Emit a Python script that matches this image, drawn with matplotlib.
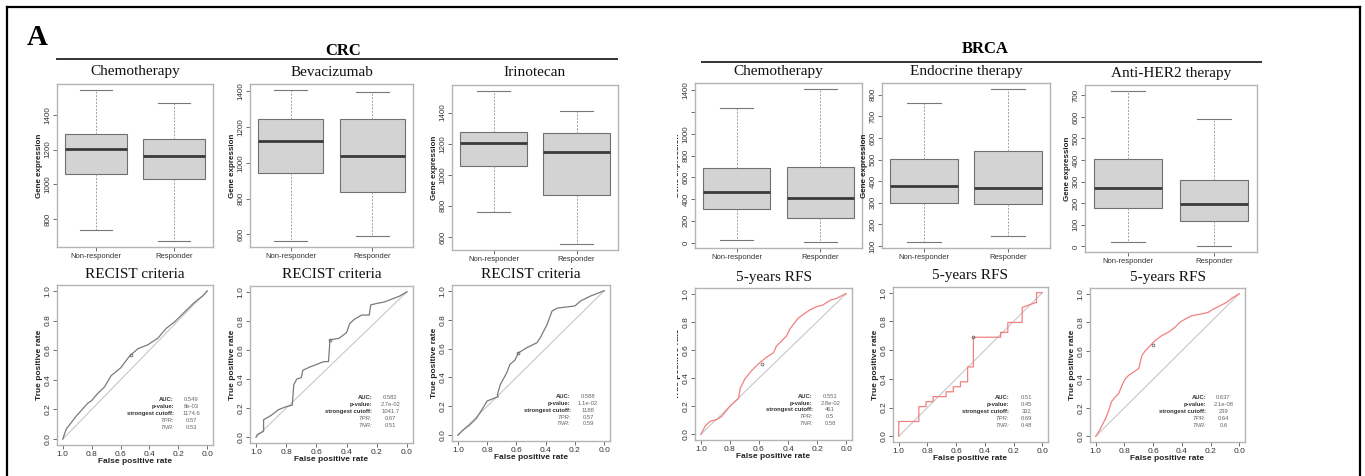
import matplotlib
matplotlib.use('Agg')
import matplotlib.pyplot as plt
from matplotlib.lines import Line2D
from matplotlib.patches import Rectangle

W, H = 1365, 476

# ---- boxplot data: [whislo, q1, median, q3, whishi] for Non-responder, Responder
box_groups = ['Non-responder', 'Responder']
box_titles = ['Chemotherapy', 'Bevacizumab', 'Irinotecan',
              'Chemotherapy', 'Endocrine therapy', 'Anti-HER2 therapy']
crc_chemo = [[737, 1057, 1202, 1290, 1541], [676, 1029, 1162, 1261, 1467]]
crc_bev = [[563, 940, 1123, 1247, 1406], [593, 838, 1037, 1247, 1393]]
crc_irino = [[759, 1054, 1202, 1275, 1538], [555, 871, 1144, 1267, 1409]]
brca_chemo = [[22, 308, 462, 683, 1237], [6, 228, 412, 698, 1412]]
brca_endo = [[119, 299, 377, 503, 761], [147, 294, 367, 539, 826]]
brca_her2 = [[19, 180, 270, 406, 719], [3, 120, 195, 309, 589]]
box_data = [crc_chemo, crc_bev, crc_irino, brca_chemo, brca_endo, brca_her2]

box_yticks = [[800, 1000, 1200, 1400],
              [600, 800, 1000, 1200, 1400],
              [600, 800, 1000, 1200, 1400],
              [0, 200, 400, 600, 800, 1000, 1200, 1400],
              [100, 200, 300, 400, 500, 600, 700, 800],
              [0, 100, 200, 300, 400, 500, 600, 700]]
box_ylabels = [[str(t) for t in ticks] for ticks in box_yticks]
box_ylabels[3][6] = ''   # R drops the 1200 label

# ---- ROC data: x = specificity axis (1 -> 0), y = sensitivity
roc_titles = ['RECIST criteria'] * 3 + ['5-years RFS'] * 3
crc1_x = [1.0, 0.977, 0.908, 0.827, 0.8, 0.758, 0.711, 0.665, 0.6, 0.538, 0.48, 0.41,
          0.342, 0.284, 0.226, 0.157, 0.088, 0.03, 0.0]
crc1_y = [0.0, 0.066, 0.154, 0.242, 0.26, 0.308, 0.352, 0.428, 0.48, 0.56, 0.61, 0.637,
          0.681, 0.747, 0.791, 0.857, 0.923, 0.967, 1.0]
crc2_x = [1.0, 0.99, 0.95, 0.95, 0.9, 0.85, 0.8, 0.76, 0.75, 0.73, 0.7, 0.69, 0.65, 0.6,
          0.55, 0.52, 0.51, 0.45, 0.4, 0.38, 0.35, 0.3, 0.25, 0.24, 0.2, 0.15, 0.1, 0.05, 0.0]
crc2_y = [0.0, 0.02, 0.04, 0.12, 0.15, 0.19, 0.21, 0.22, 0.36, 0.40, 0.41, 0.46, 0.48, 0.50,
          0.52, 0.52, 0.67, 0.68, 0.72, 0.78, 0.81, 0.84, 0.84, 0.91, 0.92, 0.93, 0.95, 0.97, 1.0]
crc3_x = [1.0, 0.966, 0.92, 0.874, 0.83, 0.8, 0.724, 0.73, 0.71, 0.667, 0.644, 0.61, 0.586,
          0.53, 0.46, 0.437, 0.39, 0.356, 0.32, 0.2, 0.16, 0.09, 0.0]
crc3_y = [0.0, 0.035, 0.07, 0.116, 0.186, 0.237, 0.267, 0.28, 0.35, 0.43, 0.49, 0.52, 0.57,
          0.605, 0.64, 0.674, 0.767, 0.86, 0.88, 0.895, 0.93, 0.965, 1.0]
brca1_x = [1.0, 0.97, 0.96, 0.936, 0.89, 0.856, 0.82, 0.8, 0.765, 0.74, 0.73, 0.696, 0.65,
           0.605, 0.55, 0.5, 0.48, 0.445, 0.41, 0.39, 0.365, 0.33, 0.285, 0.25, 0.205, 0.16,
           0.11, 0.07, 0.0]
brca1_y = [0.0, 0.058, 0.07, 0.093, 0.105, 0.128, 0.174, 0.2, 0.233, 0.256, 0.326, 0.395,
           0.453, 0.5, 0.547, 0.58, 0.628, 0.663, 0.7, 0.744, 0.78, 0.826, 0.86, 0.884, 0.907,
           0.919, 0.953, 0.965, 1.0]
brca2_x = [1.0, 1.0, 0.86, 0.86, 0.81, 0.81, 0.76, 0.76, 0.67, 0.67, 0.62, 0.62, 0.57, 0.57,
           0.52, 0.52, 0.48, 0.48, 0.29, 0.29, 0.24, 0.24, 0.14, 0.14, 0.05, 0.04, 0.04, 0.0]
brca2_y = [0.0, 0.103, 0.103, 0.207, 0.207, 0.241, 0.241, 0.276, 0.276, 0.31, 0.31, 0.345,
           0.345, 0.379, 0.379, 0.483, 0.483, 0.69, 0.69, 0.724, 0.724, 0.793, 0.793, 0.897,
           0.93, 0.93, 1.0, 1.0]
brca3_x = [1.0, 0.977, 0.954, 0.93, 0.908, 0.89, 0.862, 0.84, 0.816, 0.793, 0.77, 0.736, 0.7,
           0.69, 0.678, 0.655, 0.62, 0.586, 0.54, 0.494, 0.448, 0.414, 0.38, 0.333, 0.276,
           0.218, 0.184, 0.138, 0.092, 0.046, 0.0]
brca3_y = [0.0, 0.035, 0.081, 0.127, 0.185, 0.243, 0.278, 0.30, 0.36, 0.405, 0.428, 0.451,
           0.475, 0.52, 0.567, 0.6, 0.637, 0.671, 0.706, 0.73, 0.764, 0.8, 0.82, 0.845, 0.856,
           0.868, 0.89, 0.914, 0.937, 0.972, 1.0]
roc_x = [crc1_x, crc2_x, crc3_x, brca1_x, brca2_x, brca3_x]
roc_y = [crc1_y, crc2_y, crc3_y, brca1_y, brca2_y, brca3_y]

auc = ['0.549', '0.582', '0.588', '0.551', '0.51', '0.637']
pval = ['8e-03', '2.7e-02', '1.1e-02', '2.8e-02', '0.45', '2.1e-08']
cutoff = ['1174.6', '1041.7', '1188', '461', '332', '239']
tpr = [0.57, 0.67, 0.57, 0.5, 0.69, 0.64]
tnr = [0.53, 0.51, 0.59, 0.58, 0.48, 0.6]

# ---- panel rectangles in pixels: left, right, top, bottom
box_rects = [(57, 213, 84, 247), (250, 413, 84, 247), (452, 618, 85, 250),
             (695, 862, 83, 248), (882, 1050, 83, 248), (1085, 1257, 85, 252)]
roc_rects = [(57, 213, 285, 445), (250, 413, 286, 443), (452, 610, 285, 441),
             (695, 852, 288, 440), (893, 1048, 287, 442), (1090, 1245, 288, 442)]

SANS = 'Liberation Sans'
SERIF = 'Liberation Serif'
FRAME = '#B4B4B4'


def px_axes(fig, r):
    x0, x1, top, bottom = r
    return fig.add_axes([x0 / W, 1 - bottom / H, (x1 - x0) / W, (bottom - top) / H])


def style_frame(ax, size):
    for s in ax.spines.values():
        s.set_color(FRAME)
        s.set_linewidth(1.0)
    ax.tick_params(colors='#555555', labelcolor='#333333', length=3, width=0.6,
                   labelsize=size, pad=1)


fig = plt.figure(figsize=(W / 100, H / 100), dpi=100)

for i in range(6):
    ax = px_axes(fig, box_rects[i])
    stats = []
    for g, v in zip(box_groups, box_data[i]):
        stats.append(dict(label=g, whislo=v[0], q1=v[1], med=v[2], q3=v[3], whishi=v[4],
                          fliers=[]))
    ax.bxp(stats, positions=[1, 2], widths=0.8, patch_artist=True, capwidths=0.4,
           boxprops=dict(facecolor='#D3D3D3', edgecolor='#707070', linewidth=0.8),
           medianprops=dict(color='#3A3A3A', linewidth=2.0),
           whiskerprops=dict(color='#A0A0A0', linewidth=0.7, linestyle=(0, (2, 1.5))),
           capprops=dict(color='#787878', linewidth=0.8))
    lo = min(v[0] for v in box_data[i])
    hi = max(v[4] for v in box_data[i])
    pad = (hi - lo) * 0.04
    ax.set_ylim(lo - pad, hi + pad)
    ax.set_xlim(0.5, 2.5)
    ax.set_yticks(box_yticks[i])
    ax.set_yticklabels(box_ylabels[i], rotation=90, va='center', family=SANS)
    ax.set_xticks([1, 2])
    ax.set_xticklabels(box_groups, family=SANS)
    style_frame(ax, 5.8)
    ax.tick_params(axis='x', labelsize=5.5)
    ax.set_ylabel('Gene expression', family=SANS, fontsize=5.8, fontweight='bold',
                  labelpad=1, color='#222222')
    ax.text(0.5, 1 + 12 / (box_rects[i][3] - box_rects[i][2]), box_titles[i],
            transform=ax.transAxes, ha='center', va='center', family=SERIF,
            fontsize=11, color='#111111')

for i in range(6):
    ax = px_axes(fig, roc_rects[i])
    col = '#7A7A7A' if i < 3 else '#F28080'
    ax.plot([1, 0], [0, 1], color='#C8C8C8', lw=0.8)
    ax.plot(roc_x[i], roc_y[i], color=col, lw=0.9)
    ax.plot([tnr[i]], [tpr[i]], marker='o', ms=2, mfc='none', mec='#666666', mew=0.6)
    ax.set_xlim(1.04, -0.04)
    ax.set_ylim(-0.04, 1.04)
    ticks = [0.0, 0.2, 0.4, 0.6, 0.8, 1.0]
    ax.set_xticks(ticks)
    ax.set_xticklabels(['%.1f' % t for t in ticks], family=SANS)
    ax.set_yticks(ticks)
    ax.set_yticklabels(['%.1f' % t for t in ticks], rotation=90, va='center', family=SANS)
    style_frame(ax, 6)
    ax.set_xlabel('False positive rate', family=SANS, fontsize=6, fontweight='bold',
                  labelpad=0.5, color='#222222')
    ax.set_ylabel('True positive rate', family=SANS, fontsize=6, fontweight='bold',
                  labelpad=1, color='#222222')
    ax.text(0.5, 1 + 11 / (roc_rects[i][3] - roc_rects[i][2]), roc_titles[i],
            transform=ax.transAxes, ha='center', va='center', family=SERIF,
            fontsize=11, color='#111111')
    rows = [('AUC:', auc[i], 'bold', 'normal', '#333333'),
            ('p-value:', pval[i], 'bold', 'normal', '#333333'),
            ('strongest cutoff:', cutoff[i], 'bold', 'normal', '#333333'),
            ('TPR:', str(tpr[i]), 'normal', 'italic', '#666666'),
            ('TNR:', str(tnr[i]), 'normal', 'italic', '#666666')]
    for k, (lab, val, fw, fs, c) in enumerate(rows):
        y = 0.27 - k * 0.048
        ax.text(0.23, y, lab, ha='right', va='center', family=SANS, fontsize=4.2,
                fontweight=fw, style=fs, color=c)
        ax.text(0.11, y, val, ha='center', va='center', family=SANS, fontsize=4.2,
                color='#666666')

# cropped strip left of the BRCA panels
fig.add_artist(Rectangle((621 / W, 0), 56 / W, 400 / H, transform=fig.transFigure,
                         facecolor='white', edgecolor='none', zorder=10))

# headers
fig.text(37 / W, 1 - 38 / H, 'A', family=SERIF, fontsize=21, fontweight='bold',
         ha='center', va='center')
fig.text(343 / W, 1 - 51 / H, 'CRC', family=SERIF, fontsize=12, fontweight='bold',
         ha='center', va='center')
fig.text(985 / W, 1 - 49 / H, 'BRCA', family=SERIF, fontsize=12, fontweight='bold',
         ha='center', va='center')
fig.add_artist(Line2D([57 / W, 617 / W], [1 - 59 / H] * 2, color='#333333', lw=1.4))
fig.add_artist(Line2D([702 / W, 1261 / W], [1 - 62 / H] * 2, color='#333333', lw=1.4))

# outer frame
fig.add_artist(Line2D([7 / W, 1360 / W], [1 - 7 / H] * 2, color='black', lw=1.6, zorder=11))
fig.add_artist(Line2D([7 / W, 7 / W], [0, 1 - 7 / H], color='black', lw=1.6, zorder=11))
fig.add_artist(Line2D([1360 / W, 1360 / W], [0, 1 - 7 / H], color='black', lw=1.6, zorder=11))

fig.savefig('out.png', dpi=100)
